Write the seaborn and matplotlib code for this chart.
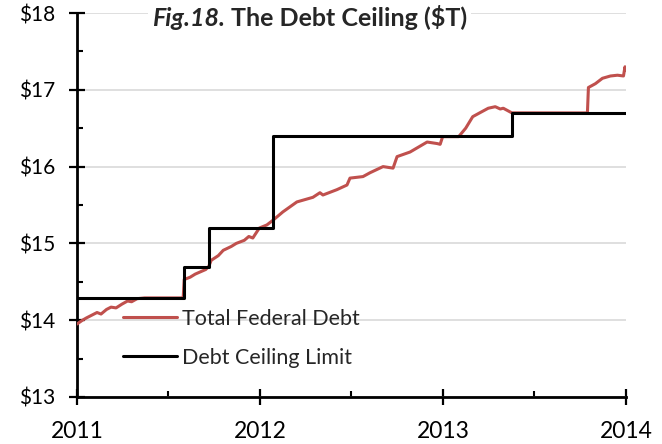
import matplotlib
matplotlib.use("Agg")
import matplotlib.pyplot as plt
import seaborn as sns
import pandas as pd

# ---- data ----
debt_dates = ["2011-01-01", "2011-01-12", "2011-01-20", "2011-02-01", "2011-02-10",
              "2011-02-18", "2011-03-01", "2011-03-10", "2011-03-20", "2011-04-01",
              "2011-04-12", "2011-04-20", "2011-05-01", "2011-05-16",
              "2011-08-01", "2011-08-03", "2011-08-15", "2011-08-25", "2011-09-01",
              "2011-09-15", "2011-09-21", "2011-09-26", "2011-10-10", "2011-10-20",
              "2011-11-05", "2011-11-15", "2011-12-01", "2011-12-10", "2011-12-18",
              "2011-12-31", "2012-01-15", "2012-01-27", "2012-02-16", "2012-03-15",
              "2012-04-16", "2012-04-30", "2012-05-06", "2012-06-03", "2012-06-23",
              "2012-06-29", "2012-07-25", "2012-08-08", "2012-09-03", "2012-09-23",
              "2012-10-01", "2012-10-27", "2012-11-30", "2012-12-20", "2012-12-26",
              "2012-12-31", "2013-02-01", "2013-02-15", "2013-03-01", "2013-03-15",
              "2013-04-01", "2013-04-15", "2013-04-25", "2013-05-01", "2013-05-18",
              "2013-10-16", "2013-10-18", "2013-11-01", "2013-11-15", "2013-12-01",
              "2013-12-15", "2013-12-27", "2013-12-30", "2013-12-31"]
debt_values = [13.95, 14.00, 14.03, 14.07, 14.10,
               14.08, 14.14, 14.17, 14.16, 14.21,
               14.25, 14.24, 14.28, 14.29,
               14.29, 14.53, 14.56, 14.60, 14.62,
               14.66, 14.70, 14.78, 14.84, 14.91,
               14.96, 15.00, 15.04, 15.09, 15.07,
               15.20, 15.24, 15.30, 15.41, 15.54,
               15.60, 15.66, 15.63, 15.70, 15.76,
               15.85, 15.87, 15.92, 16.00, 15.98,
               16.13, 16.19, 16.32, 16.30, 16.29,
               16.39, 16.39, 16.50, 16.65, 16.70,
               16.76, 16.78, 16.75, 16.76, 16.70,
               16.699, 17.03, 17.08, 17.15, 17.18,
               17.19, 17.18, 17.30, 17.26]

ceiling_dates = ["2011-01-01", "2011-08-02", "2011-09-22", "2012-01-27", "2013-05-19", "2014-01-01"]
ceiling_values = [14.294, 14.694, 15.194, 16.394, 16.699, 16.699]

y_ticks = [13, 14, 15, 16, 17, 18]
y_labels = ["$13", "$14", "$15", "$16", "$17", "$18"]
x_years = ["2011", "2012", "2013", "2014"]

debt_df = pd.DataFrame({"date": pd.to_datetime(debt_dates), "value": debt_values})
ceil_df = pd.DataFrame({"date": pd.to_datetime(ceiling_dates), "value": ceiling_values})

# ---- style ----
sns.set_style("white")
plt.rcParams["font.family"] = ["Lato", "DejaVu Sans"]

fig = plt.figure(figsize=(6.62, 4.44), dpi=100)
ax = fig.add_axes([0.1163, 0.1059, 0.8293, 0.8648])

red = "#C0504D"
sns.lineplot(data=debt_df, x="date", y="value", ax=ax, color=red, lw=2.2,
             label="Total Federal Debt", zorder=3)
sns.lineplot(data=ceil_df, x="date", y="value", ax=ax, color="black", lw=2.2,
             drawstyle="steps-post", label="Debt Ceiling Limit", zorder=4)

ax.set_xlim(pd.Timestamp("2011-01-01"), pd.Timestamp("2014-01-01"))
ax.set_ylim(13, 18)
ax.set_xlabel("")
ax.set_ylabel("")

ax.set_yticks(y_ticks)
ax.set_yticklabels(y_labels)
ax.set_yticks([13.5, 14.5, 15.5, 16.5, 17.5], minor=True)
ax.set_xticks([pd.Timestamp(f"{y}-01-01") for y in x_years])
ax.set_xticklabels(x_years)
ax.set_xticks([pd.Timestamp(f"{y}-07-02") for y in x_years[:-1]], minor=True)

ax.yaxis.grid(True, which="major", color="#D9D9D9", lw=1.2)
ax.xaxis.grid(False)
ax.set_axisbelow(True)

for s in ["top", "right"]:
    ax.spines[s].set_visible(False)
for s in ["left", "bottom"]:
    ax.spines[s].set_linewidth(2.0)
    ax.spines[s].set_color("black")

ax.tick_params(axis="both", which="both", left=True, bottom=True)
ax.tick_params(axis="both", which="major", direction="inout", length=11, width=1.6,
               color="black", labelcolor="black")
ax.tick_params(axis="y", which="major", pad=10, labelsize=15)
ax.tick_params(axis="x", which="major", pad=12, labelsize=16.5)
ax.tick_params(axis="both", which="minor", direction="in", length=4.5, width=1.5, color="black")

# title inside the plot
t1 = ax.text(0.1366, 0.966, "Fig.18.", transform=ax.transAxes, fontsize=18,
             fontweight="bold", fontstyle="italic", ha="left", va="baseline",
             bbox=dict(facecolor="white", edgecolor="none", pad=3), zorder=6)
ax.annotate("The Debt Ceiling ($T)", xy=(1, 0), xycoords=t1, xytext=(4, 0),
            textcoords="offset points", fontsize=18, fontweight="bold",
            ha="left", va="bottom",
            bbox=dict(facecolor="white", edgecolor="none", pad=3), zorder=6)

leg = ax.legend(loc="upper left", bbox_to_anchor=(0.072, 0.246), fontsize=15.5,
                frameon=False, borderpad=0.3, borderaxespad=0, handlelength=2.5,
                handletextpad=0.23, labelspacing=0.88)
leg.set_zorder(5)

fig.savefig("out.png", dpi=100)
